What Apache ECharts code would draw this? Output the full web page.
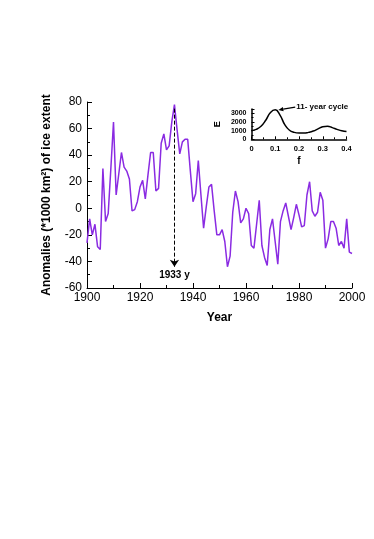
<!DOCTYPE html>
<html>
<head>
<meta charset="utf-8">
<script src="https://cdn.jsdelivr.net/npm/echarts@6/dist/echarts.min.js"></script>
<style>
  html, body { margin: 0; padding: 0; background: #fff; }
  #chart { width: 374px; height: 539px; }
</style>
</head>
<body>
<div id="chart"></div>
<script>
// annual ice extent anomalies, 1900 - 2000
const firstYear = 1900;
const anomalies = [
  -26, -8, -20, -12, -29, -31, 30, -10, -4, 30,
  65, 10, 26, 42, 31, 28, 22, -2, -1, 5,
  16, 21, 7, 25, 42, 42, 13, 15, 49, 56,
  44, 47, 65, 78, 59, 41, 50, 52, 52, 28,
  5, 11, 36, 10, -15, 1, 16, 18, -2, -20,
  -20, -16, -25, -44, -36, -3, 13, 5, -11, -8,
  0, -4, -28, -30, -12, 6, -28, -37, -43, -16,
  -8, -25, -42, -10, -2, 4, -6, -16, -7, 3,
  -5, -14, -13, 10, 20, -2, -6, -3, 12, 6,
  -30, -23, -10, -10, -15, -28, -25, -30, -8, -33,
  -34
];

// inset spectrum
const freqs = [0, 0.02, 0.04, 0.06, 0.08, 0.1, 0.12, 0.14, 0.16, 0.18, 0.2,
  0.22, 0.24, 0.26, 0.28, 0.3, 0.32, 0.34, 0.36, 0.38, 0.4];
const energy = [1000, 1150, 1500, 2200, 3100, 3400, 2800, 1700, 1050, 800, 720,
  720, 800, 950, 1200, 1450, 1500, 1350, 1150, 980, 900];

const peakYear = 1933;
const peakLabel = '1933 y';
const cycleLabel = '11- year cycle';
// arrow of the cycle note, from the text to the spectrum peak (data units)
const cycleFrom = [0.184, 3720];
const cycleTo = [0.113, 3380];

const mainData = anomalies.map((v, i) => [firstYear + i, v]);
const specData = freqs.map((f, i) => [f, energy[i]]);

const font = 'Liberation Sans, Arial, sans-serif';
const plain = v => String(v);

const chart = echarts.init(document.getElementById('chart'), null, { renderer: 'canvas' });

const option = {
  animation: false,
  backgroundColor: '#fff',
  grid: [
    { left: 87, right: 22, top: 102, bottom: 251 },
    { left: 251.5, right: 27.5, top: 109, bottom: 399.7 }
  ],
  xAxis: [
    {
      type: 'value',
      gridIndex: 0,
      min: 1900,
      max: 2000,
      interval: 20,
      name: 'Year',
      nameLocation: 'middle',
      nameGap: 24,
      nameTextStyle: { fontFamily: font, fontWeight: 'bold', fontSize: 12, color: '#000' },
      axisLine: { onZero: false, lineStyle: { color: '#000', width: 1 } },
      axisTick: { inside: true, length: 5, lineStyle: { color: '#000' } },
      minorTick: { show: true, splitNumber: 2, length: 3, lineStyle: { color: '#000' } },
      axisLabel: { fontFamily: font, fontSize: 12, color: '#000', margin: 4, formatter: plain },
      splitLine: { show: false }
    },
    {
      type: 'value',
      gridIndex: 1,
      min: 0,
      max: 0.4,
      interval: 0.1,
      name: 'f',
      nameLocation: 'middle',
      nameGap: 17,
      nameTextStyle: { fontFamily: font, fontWeight: 'bold', fontSize: 10, color: '#000' },
      axisLine: { onZero: false, lineStyle: { color: '#000', width: 1.5 } },
      axisTick: { inside: true, length: 3, lineStyle: { color: '#000' } },
      minorTick: { show: true, splitNumber: 2, length: 2, lineStyle: { color: '#000' } },
      axisLabel: { fontFamily: font, fontWeight: 'bold', fontSize: 7.5, color: '#000', margin: 6, formatter: plain },
      splitLine: { show: false }
    }
  ],
  yAxis: [
    {
      type: 'value',
      gridIndex: 0,
      min: -60,
      max: 80,
      interval: 20,
      name: 'Anomalies (*1000 km²) of ice extent',
      nameLocation: 'middle',
      nameGap: 34,
      nameTextStyle: { fontFamily: font, fontWeight: 'bold', fontSize: 12, color: '#000' },
      axisLine: { show: true, onZero: false, lineStyle: { color: '#000', width: 1 } },
      axisTick: { show: true, inside: true, length: 5, lineStyle: { color: '#000' } },
      minorTick: { show: true, splitNumber: 2, length: 3, lineStyle: { color: '#000' } },
      axisLabel: { fontFamily: font, fontSize: 12, color: '#000', margin: 5, formatter: plain },
      splitLine: { show: false }
    },
    {
      type: 'value',
      gridIndex: 1,
      min: 0,
      max: 3500,
      interval: 1000,
      name: 'E',
      nameLocation: 'middle',
      nameGap: 29,
      nameTextStyle: { fontFamily: font, fontWeight: 'bold', fontSize: 9, color: '#000' },
      axisLine: { show: true, onZero: false, lineStyle: { color: '#000', width: 1.5 } },
      axisTick: { show: true, inside: true, length: 3, lineStyle: { color: '#000' } },
      minorTick: { show: true, splitNumber: 2, length: 2, lineStyle: { color: '#000' } },
      axisLabel: { fontFamily: font, fontWeight: 'bold', fontSize: 7, color: '#000', margin: 5, formatter: plain },
      splitLine: { show: false }
    }
  ],
  series: [
    {
      type: 'line',
      xAxisIndex: 0,
      yAxisIndex: 0,
      data: mainData,
      symbol: 'none',
      lineStyle: { color: '#8a2be2', width: 1.5 },
      markLine: {
        silent: true,
        symbol: ['none', 'arrow'],
        symbolSize: 7,
        lineStyle: { color: '#000', type: 'dashed', width: 1 },
        label: {
          show: true,
          position: 'end',
          distance: 4,
          formatter: peakLabel,
          fontFamily: font,
          fontWeight: 'bold',
          fontSize: 10,
          color: '#000'
        },
        data: [[{ coord: [peakYear, 75] }, { coord: [peakYear, -44] }]]
      }
    },
    {
      type: 'line',
      xAxisIndex: 1,
      yAxisIndex: 1,
      data: specData,
      smooth: true,
      symbol: 'none',
      lineStyle: { color: '#000', width: 1.5 }
    }
  ]
};

chart.setOption(option);

// note for the 11-year peak, placed through the inset axes
const a = chart.convertToPixel({ xAxisIndex: 1, yAxisIndex: 1 }, cycleFrom);
const b = chart.convertToPixel({ xAxisIndex: 1, yAxisIndex: 1 }, cycleTo);
const dx = b[0] - a[0], dy = b[1] - a[1];
const len = Math.sqrt(dx * dx + dy * dy);
const ux = dx / len, uy = dy / len;
const head = 5, half = 2.2;
const base = [b[0] - ux * head, b[1] - uy * head];

chart.setOption({
  graphic: [
    {
      type: 'line',
      silent: true,
      shape: { x1: a[0], y1: a[1], x2: base[0], y2: base[1] },
      style: { stroke: '#000', lineWidth: 1.2 }
    },
    {
      type: 'polygon',
      silent: true,
      shape: {
        points: [
          b,
          [base[0] - uy * half, base[1] + ux * half],
          [base[0] + uy * half, base[1] - ux * half]
        ]
      },
      style: { fill: '#000' }
    },
    {
      type: 'text',
      silent: true,
      x: a[0] + 1,
      y: a[1],
      style: {
        text: cycleLabel,
        font: 'bold 8px ' + font,
        fill: '#000',
        verticalAlign: 'middle',
        align: 'left'
      }
    }
  ]
});
</script>
</body>
</html>
